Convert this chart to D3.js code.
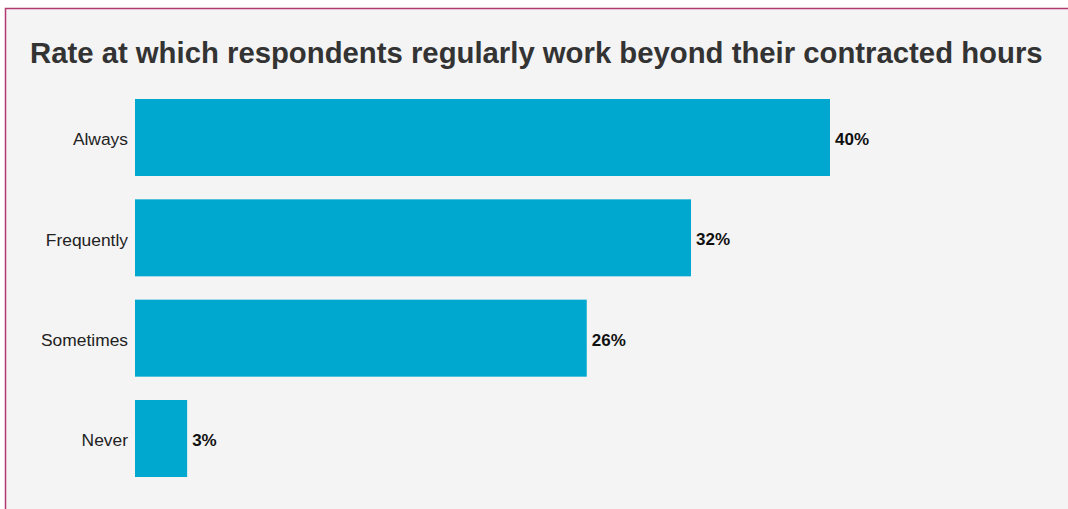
<!DOCTYPE html>
<html>
<head>
<meta charset="utf-8">
<script src="https://cdn.jsdelivr.net/npm/d3@7"></script>
<style>
  html, body { margin: 0; padding: 0; background: #ffffff; }
  svg { display: block; }
</style>
</head>
<body>
<svg id="chart" width="1068" height="509"></svg>
<script>
// Survey responses: how often people work beyond contracted hours
const categories = ["Always", "Frequently", "Sometimes", "Never"];
const shares = [40, 32, 26, 3];
const titleText = "Rate at which respondents regularly work beyond their contracted hours";

const svg = d3.select("#chart");
const W = 1068, H = 509;

// Panel with a coloured frame
svg.append("rect")
  .attr("x", 5.5).attr("y", 8.5)
  .attr("width", W + 20).attr("height", H + 20)
  .attr("fill", "#f4f4f4")
  .attr("stroke", "#b33a6f")
  .attr("stroke-width", 1.5);

svg.append("text")
  .attr("x", 30).attr("y", 63)
  .attr("font-family", "Liberation Sans, Arial, sans-serif")
  .attr("font-size", 29.3)
  .attr("font-weight", "bold")
  .attr("fill", "#333333")
  .text(titleText);

const x = d3.scaleLinear().domain([0, 40]).range([135, 830]);
const y = d3.scaleBand().domain(categories).range([99, 477]).paddingInner(0.2326).paddingOuter(0);

const data = categories.map((c, i) => ({ cat: c, v: shares[i] }));

svg.append("g").selectAll("rect")
  .data(data).join("rect")
  .attr("x", x(0))
  .attr("y", d => y(d.cat))
  .attr("width", d => x(d.v) - x(0))
  .attr("height", y.bandwidth())
  .attr("fill", "#00a8d0");

// Category axis, no line or ticks
const yAxis = svg.append("g")
  .attr("transform", `translate(${x(0) - 7},0)`)
  .call(d3.axisLeft(y).tickSize(0).tickPadding(0));
yAxis.select(".domain").remove();
yAxis.selectAll("text")
  .attr("dy", "0.45em")
  .attr("font-family", "Liberation Sans, Arial, sans-serif")
  .attr("font-size", 17.4)
  .attr("fill", "#222222");

svg.append("g").selectAll("text")
  .data(data).join("text")
  .attr("x", d => x(d.v) + 5)
  .attr("y", d => y(d.cat) + y.bandwidth() / 2)
  .attr("dy", "0.45em")
  .attr("font-family", "Liberation Sans, Arial, sans-serif")
  .attr("font-size", 17)
  .attr("font-weight", "bold")
  .attr("fill", "#111111")
  .text(d => d.v + "%");
</script>
</body>
</html>
